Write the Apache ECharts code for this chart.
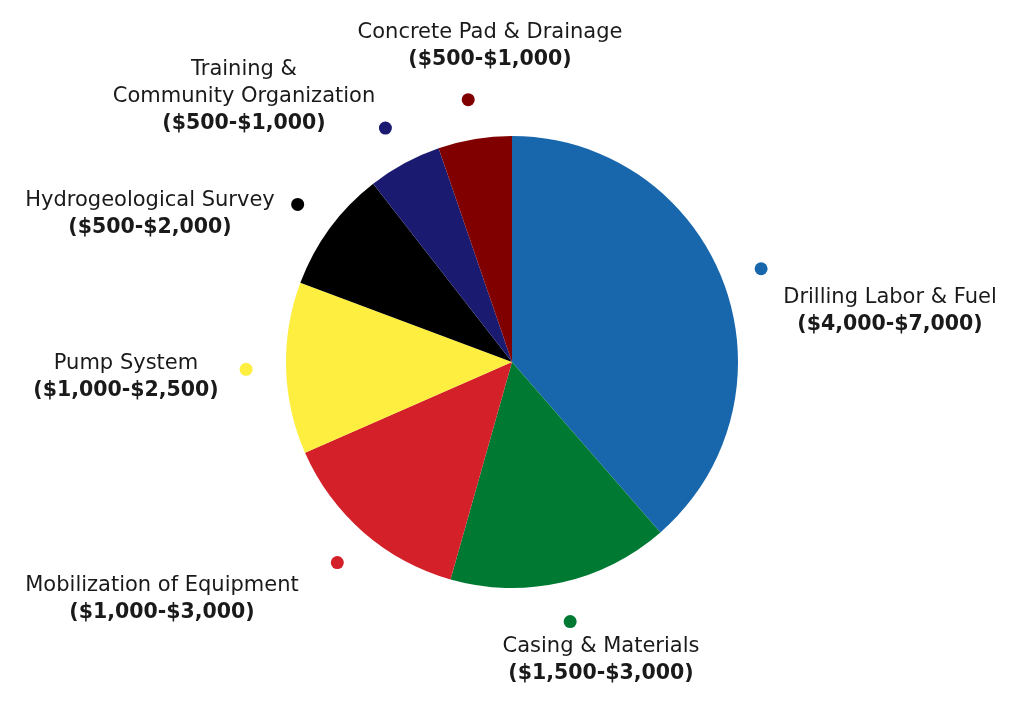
<!DOCTYPE html>
<html>
<head>
<meta charset="utf-8">
<script src="https://cdn.jsdelivr.net/npm/echarts@6/dist/echarts.min.js"></script>
<style>
  html, body { margin: 0; padding: 0; background: #fff; }
  #main { width: 1024px; height: 719px; }
</style>
</head>
<body>
<div id="main"></div>
<script>
// cost components, clockwise from 12 o'clock
var categories = ['Drilling Labor & Fuel', 'Casing & Materials', 'Mobilization of Equipment', 'Pump System', 'Hydrogeological Survey', 'Training &\nCommunity Organization', 'Concrete Pad & Drainage'];
var ranges = ['($4,000-$7,000)', '($1,500-$3,000)', '($1,000-$3,000)', '($1,000-$2,500)', '($500-$2,000)', '($500-$1,000)', '($500-$1,000)'];
var values = [5500, 2250, 2000, 1750, 1250, 750, 750];
var colors = ['#1866ac', '#007a33', '#d32029', '#fdee40', '#000000', '#1a1a70', '#800000'];

// label anchors (centre of each text block)
var labelPos = [[890, 311], [601, 660], [162, 599], [126, 377], [150, 214], [244, 97], [490, 46]];

var total = values.reduce(function (a, b) { return a + b; }, 0);
var cum = 0;
var dots = values.map(function (v, i) {
    var mid = cum + v / 2;
    cum += v;
    return { value: [1, mid], itemStyle: { color: colors[i], opacity: 1 } };
});

var myChart = echarts.init(document.getElementById('main'));

var option = {
    animation: false,
    polar: {
        center: [512, 362],
        radius: 266
    },
    angleAxis: {
        type: 'value',
        min: 0,
        max: total,
        startAngle: 90,
        clockwise: true,
        show: false
    },
    radiusAxis: {
        type: 'value',
        min: 0,
        max: 1,
        show: false
    },
    series: [{
        type: 'pie',
        center: [512, 362],
        radius: [0, 226],
        startAngle: 90,
        clockwise: true,
        silent: true,
        data: categories.map(function (c, i) {
            return { name: c, value: values[i], itemStyle: { color: colors[i] } };
        }),
        labelLine: { show: false },
        label: {
            show: true,
            position: 'outside',
            formatter: function (p) {
                return '{n|' + p.name.split('\n').join('}\n{n|') + '}\n{v|' + ranges[p.dataIndex] + '}';
            },
            rich: {
                n: { fontFamily: 'DejaVu Sans', fontSize: 21, color: '#1a1a1a', lineHeight: 27, align: 'center' },
                v: { fontFamily: 'DejaVu Sans', fontSize: 20.5, fontWeight: 'bold', color: '#1a1a1a', lineHeight: 27, align: 'center' }
            }
        },
        labelLayout: function (params) {
            var p = labelPos[params.dataIndex];
            return { x: p[0], y: p[1], align: 'center', verticalAlign: 'middle' };
        }
    }, {
        type: 'scatter',
        coordinateSystem: 'polar',
        symbol: 'circle',
        symbolSize: 13,
        silent: true,
        itemStyle: { opacity: 1 },
        data: dots
    }]
};

myChart.setOption(option);
</script>
</body>
</html>
